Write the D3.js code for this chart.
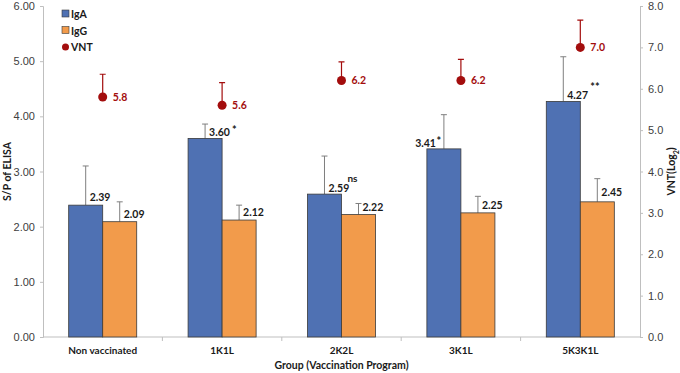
<!DOCTYPE html>
<html>
<head>
<meta charset="utf-8">
<script src="https://cdn.jsdelivr.net/npm/d3@7"></script>
<style>
  body { margin: 0; background: #fff; }
  svg { font-family: Lato, "Open Sans", sans-serif; }
  .tick text { fill: #404040; font-size: 11px; }
  .lbl { font-weight: bold; font-size: 10.5px; fill: #1a1a1a; }
</style>
</head>
<body>
<script>
(function(){

//chart data
var groups = ["Non vaccinated", "1K1L", "2K2L", "3K1L", "5K3K1L"];
var igaValues = [2.39, 3.60, 2.59, 3.41, 4.27];
var igaErrTop = [3.10, 3.86, 3.28, 4.03, 5.08];
var igaMarks = ["", "*", "ns", "*", "**"];
var iggValues = [2.09, 2.12, 2.22, 2.25, 2.45];
var iggErrTop = [2.45, 2.39, 2.42, 2.55, 2.87];
var vntValues = [5.8, 5.6, 6.2, 6.2, 7.0];
var vntErrTop = [6.35, 6.15, 6.65, 6.71, 7.66];
var leftTicks = [0, 1, 2, 3, 4, 5, 6];
var rightTicks = [0, 1, 2, 3, 4, 5, 6, 7, 8];

var blue = "#4f71b3", orange = "#f29b4b", red = "#a30d0d";

window.onload = drawChart();

function drawChart(){
    var width = 680, height = 373;
    var margin = {left: 43, right: 40, top: 6, bottom: 36};

    var svg = d3.select("body").append("svg")
        .attr("width", width)
        .attr("height", height);

    //scales
    var x = d3.scaleBand()
        .domain(groups)
        .range([margin.left, width - margin.right]);

    var xSub = d3.scaleBand()
        .domain(["IgA", "IgG"])
        .range([0, x.bandwidth()])
        .paddingOuter(0.755)
        .paddingInner(0);

    var yL = d3.scaleLinear().domain([0, 6]).range([height - margin.bottom, margin.top]);
    var yR = d3.scaleLinear().domain([0, 8]).range([height - margin.bottom, margin.top]);

    //axes
    var leftAxis = svg.append("g")
        .attr("transform", "translate(" + margin.left + ",0)")
        .call(d3.axisLeft(yL).tickValues(leftTicks).tickFormat(d3.format(".2f")).tickSize(3).tickPadding(5));
    var rightAxis = svg.append("g")
        .attr("transform", "translate(" + (width - margin.right) + ",0)")
        .call(d3.axisRight(yR).tickValues(rightTicks).tickFormat(d3.format(".1f")).tickSize(3).tickPadding(5));
    [leftAxis, rightAxis].forEach(function(a){
        a.select(".domain").attr("stroke", "#bfbfbf");
        a.selectAll(".tick line").attr("stroke", "#bfbfbf");
    });

    //x axis line with boundary ticks
    var base = yL(0);
    svg.append("line")
        .attr("x1", margin.left).attr("x2", width - margin.right)
        .attr("y1", base).attr("y2", base)
        .attr("stroke", "#bfbfbf");
    groups.forEach(function(g, i){
        if (i == 0) return;
        svg.append("line")
            .attr("x1", x(g)).attr("x2", x(g))
            .attr("y1", base).attr("y2", base + 4)
            .attr("stroke", "#bfbfbf");
    });

    //category labels
    svg.selectAll(".cat")
        .data(groups)
        .enter()
        .append("text")
        .attr("class", "lbl")
        .attr("x", function(d){ return x(d) + x.bandwidth() / 2; })
        .attr("y", base + 17)
        .attr("text-anchor", "middle")
        .style("font-size", "10px")
        .text(function(d){ return d; });

    //axis titles
    svg.append("text")
        .attr("class", "lbl")
        .attr("x", (margin.left + width - margin.right) / 2)
        .attr("y", base + 32)
        .attr("text-anchor", "middle")
        .text("Group (Vaccination Program)");

    svg.append("text")
        .attr("class", "lbl")
        .attr("transform", "translate(11," + yL(3) + ") rotate(-90)")
        .attr("text-anchor", "middle")
        .text("S/P of ELISA");

    var rt = svg.append("text")
        .attr("class", "lbl")
        .attr("transform", "translate(675," + yR(4) + ") rotate(-90)")
        .attr("text-anchor", "middle");
    rt.append("tspan").text("VNT(Log");
    rt.append("tspan").attr("baseline-shift", "sub").style("font-size", "7px").text("2");
    rt.append("tspan").text(")");

    //bar series
    var series = [
        {key: "IgA", vals: igaValues, err: igaErrTop, color: blue},
        {key: "IgG", vals: iggValues, err: iggErrTop, color: orange}
    ];

    series.forEach(function(s){
        var gx = function(i){ return x(groups[i]) + xSub(s.key); };

        //error whiskers
        svg.selectAll(".err" + s.key)
            .data(s.vals)
            .enter()
            .append("path")
            .attr("d", function(d, i){
                var cx = gx(i) + xSub.bandwidth() / 2;
                return "M" + cx + "," + yL(d) + "V" + yL(s.err[i]) +
                    "M" + (cx - 3) + "," + yL(s.err[i]) + "H" + (cx + 3);
            })
            .attr("stroke", "#7f7f7f")
            .attr("fill", "none");

        svg.selectAll(".bar" + s.key)
            .data(s.vals)
            .enter()
            .append("rect")
            .attr("x", function(d, i){ return gx(i); })
            .attr("y", function(d){ return yL(d); })
            .attr("width", xSub.bandwidth())
            .attr("height", function(d){ return base - yL(d); })
            .attr("fill", s.color)
            .attr("stroke", "#3a3a3a")
            .attr("stroke-width", 0.8);

        //value labels
        svg.selectAll(".val" + s.key)
            .data(s.vals)
            .enter()
            .append("text")
            .attr("class", "lbl")
            .attr("x", function(d, i){
                var cx = gx(i) + xSub.bandwidth() / 2;
                return (s.key == "IgA" && i == 3) ? cx - 8 : cx + 4;
            })
            .attr("y", function(d, i){
                if (s.key == "IgG" && i == 4) return yL(d) - 6;
                return yL(d) - ((s.key == "IgA" && i > 0) ? 2 : 4);
            })
            .attr("text-anchor", function(d, i){
                return (s.key == "IgA" && i == 3) ? "end" : "start";
            })
            .text(function(d){ return d.toFixed(2); });
    });

    //significance marks on IgA
    igaMarks.forEach(function(m, i){
        if (!m) return;
        var cx = x(groups[i]) + xSub("IgA") + xSub.bandwidth() / 2;
        var mx = (i == 3) ? cx - 5 : (m == "ns" ? cx + 23 : cx + 27);
        var my = yL(igaValues[i]) - (m == "ns" ? 12 : 8);
        if (i == 4) my = yL(igaValues[i]) - 14;
        svg.append("text")
            .attr("class", "lbl")
            .attr("x", mx)
            .attr("y", my + (m == "ns" ? 0 : 4))
            .attr("text-anchor", i == 3 ? "middle" : "start")
            .style("font-size", m == "ns" ? "10px" : "11px")
            .text(m);
    });

    //VNT points with error
    var cxV = function(i){ return x(groups[i]) + x.bandwidth() / 2; };
    svg.selectAll(".errV")
        .data(vntValues)
        .enter()
        .append("path")
        .attr("d", function(d, i){
            return "M" + cxV(i) + "," + yR(d) + "V" + yR(vntErrTop[i]) +
                "M" + (cxV(i) - 3) + "," + yR(vntErrTop[i]) + "H" + (cxV(i) + 3);
        })
        .attr("stroke", red)
        .attr("stroke-width", 1.2)
        .attr("fill", "none");

    svg.selectAll(".vnt")
        .data(vntValues)
        .enter()
        .append("circle")
        .attr("cx", function(d, i){ return cxV(i); })
        .attr("cy", function(d){ return yR(d); })
        .attr("r", 4.5)
        .attr("fill", red);

    svg.selectAll(".vntLbl")
        .data(vntValues)
        .enter()
        .append("text")
        .attr("class", "lbl")
        .attr("x", function(d, i){ return cxV(i) + 10; })
        .attr("y", function(d){ return yR(d) + 4; })
        .style("fill", red)
        .text(function(d){ return d.toFixed(1); });

    //legend
    var legend = [
        {name: "IgA", color: blue, shape: "rect"},
        {name: "IgG", color: orange, shape: "rect"},
        {name: "VNT", color: red, shape: "circle"}
    ];
    legend.forEach(function(l, i){
        var ly = 14 + i * 16.5;
        if (l.shape == "rect"){
            svg.append("rect")
                .attr("x", 62).attr("y", ly - 4)
                .attr("width", 7).attr("height", 7)
                .attr("fill", l.color)
                .attr("stroke", "#3a3a3a").attr("stroke-width", 0.6);
        } else {
            svg.append("circle")
                .attr("cx", 65.5).attr("cy", ly)
                .attr("r", 3.5)
                .attr("fill", l.color);
        }
        svg.append("text")
            .attr("class", "lbl")
            .attr("x", 71).attr("y", ly + 4)
            .text(l.name);
    });
};

})();
</script>
</body>
</html>
